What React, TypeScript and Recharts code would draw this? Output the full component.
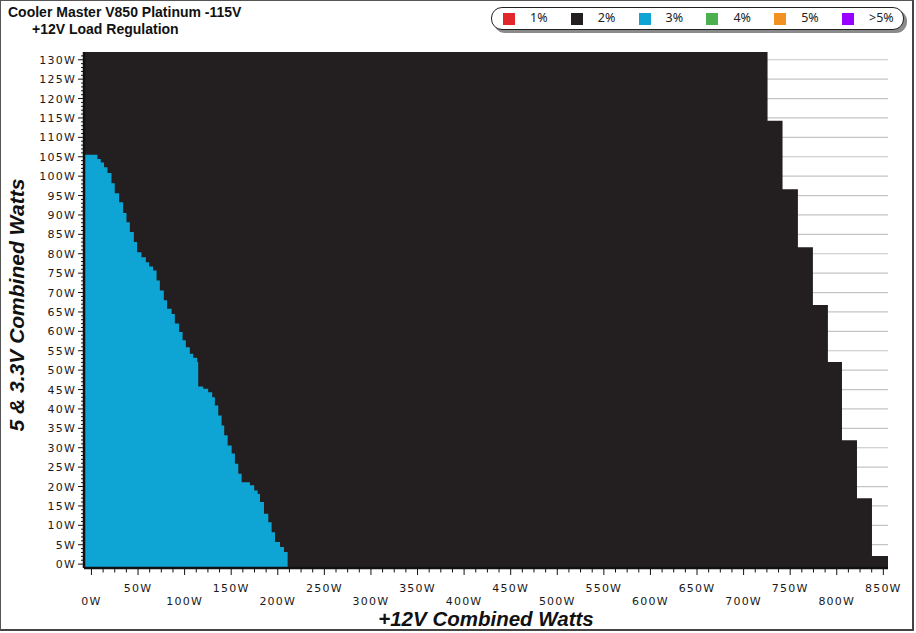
import { Area, CartesianGrid, ComposedChart, XAxis, YAxis } from "recharts"

// +12V combined watts where each step of the 2% (black) region starts, and its top in 5 & 3.3V watts
const blackX = [-8, 725.7, 741.8, 758.3, 774.4, 790.5, 805.6, 821.7, 837.8, 855]
const blackY = [132, 114.3, 96.6, 81.7, 66.8, 52.1, 31.9, 17.0, 2.1, 2.1]

// same for the 3% (blue) region
const blueX = [
  -8, 6.4, 10, 13.5, 17.2, 21.5, 25, 29.7, 34, 37.6, 41.2, 45.5, 49, 53.7, 58.4, 61.9, 66.2,
  69.9, 73.4, 77.7, 81.2, 86, 89.5, 94.1, 97.8, 101.3, 105.6, 109.2, 113.5, 114.6, 119.9,
  125.3, 129.6, 132.5, 136.1, 139.7, 142.5, 146.2, 150.5, 154, 157.6, 161.2, 170.1, 174.7,
  178.4, 180.9, 185.2, 189.8, 193.4, 197, 202.4, 206.7, 210.6,
]
const blueY = [
  105.5, 104.4, 103.5, 102.3, 100.8, 98.2, 95.6, 93.3, 90.5, 88.1, 85.6, 83.0, 80.4, 79.1,
  77.8, 76.7, 75.7, 73.1, 70.5, 68.0, 65.8, 64.5, 62.0, 59.8, 57.7, 55.9, 54.2, 53.2, 52.1,
  45.8, 45.2, 44.3, 43.0, 40.9, 38.3, 35.7, 33.2, 30.6, 28.5, 25.9, 23.3, 21.1, 20.3, 19.0,
  18.1, 16.0, 13.0, 10.8, 8.2, 5.7, 4.4, 3.1, 3.1,
]

const yMajorTicks = [0, 5, 10, 15, 20, 25, 30, 35, 40, 45, 50, 55, 60, 65, 70, 75, 80, 85, 90, 95, 100, 105, 110, 115, 120, 125, 130]
const yTicks = Array.from({ length: 132 }, (_, i) => i)
const xTicks = Array.from({ length: 69 }, (_, i) => i * 12.5)

const legendItems = [
  { label: "1%", color: "#e1262c" },
  { label: "2%", color: "#231f20" },
  { label: "3%", color: "#0ea4d3" },
  { label: "4%", color: "#4cb04f" },
  { label: "5%", color: "#f29021" },
  { label: ">5%", color: "#9a00ff" },
]

const stepValue = (xs: number[], ys: number[], x: number) => {
  let value = ys[0]
  xs.forEach((sx, i) => {
    if (sx <= x) value = ys[i]
  })
  return value
}

const allX = Array.from(new Set([...blackX, ...blueX])).sort((a, b) => a - b)
const rows = allX.map((x) => ({
  x,
  black: stepValue(blackX, blackY, x),
  blue: x <= blueX[blueX.length - 1] ? stepValue(blueX, blueY, x) : null,
}))

const tickFont = "'DejaVu Sans', Verdana, sans-serif"

const YTick = ({ x, y, payload }: any) => {
  const v = payload.value
  const major = v % 5 === 0
  return (
    <g>
      <line x1={x - (major ? 6 : 3)} x2={x} y1={y} y2={y} stroke="#111" strokeWidth={1} />
      {major && (
        <text
          x={x - 8}
          y={y}
          dy={4}
          textAnchor="end"
          fontFamily={tickFont}
          fontSize={11}
          letterSpacing={1.2}
          fill="#1a1a1a"
        >
          {v}W
        </text>
      )}
    </g>
  )
}

const XTick = ({ x, y, payload }: any) => {
  const v = payload.value
  const major = v % 50 === 0
  const upper = major && v % 100 !== 0
  return (
    <g>
      <line x1={x} x2={x} y1={y} y2={y + (major ? 7 : 4.5)} stroke="#111" strokeWidth={1} />
      {major && (
        <text
          x={x}
          y={y + (upper ? 24 : 37)}
          textAnchor="middle"
          fontFamily={tickFont}
          fontSize={11}
          letterSpacing={1.2}
          fill="#1a1a1a"
        >
          {v}W
        </text>
      )}
    </g>
  )
}

export default function App() {
  return (
    <div
      style={{
        position: "absolute",
        left: 0,
        top: 0,
        width: 916,
        height: 633,
        background: "#fff",
        fontFamily: "'Liberation Sans', Arial, sans-serif",
        overflow: "hidden",
      }}
    >
      <div
        style={{
          position: "absolute",
          left: 0,
          top: 0,
          width: 914,
          height: 631,
          boxSizing: "border-box",
          borderTop: "1px solid #555",
          borderLeft: "1px solid #555",
          borderRight: "2px solid #444",
          borderBottom: "2px solid #444",
        }}
      />
      <div style={{ position: "absolute", left: 0, top: 0 }}>
        <ComposedChart
          width={916}
          height={633}
          data={rows}
          margin={{ top: 52, right: 28, bottom: 15, left: 24 }}
        >
          <CartesianGrid
            horizontal
            vertical={false}
            horizontalValues={yMajorTicks}
            stroke="#c4c4c4"
            strokeWidth={1.2}
          />
          <XAxis
            type="number"
            dataKey="x"
            domain={[-8, 855]}
            allowDataOverflow
            ticks={xTicks}
            interval={0}
            tickSize={0}
            tickMargin={0}
            tickLine={false}
            tick={(p: any) => <XTick {...p} />}
            axisLine={{ stroke: "#111", strokeWidth: 2.5 }}
            height={50}
          />
          <YAxis
            type="number"
            domain={[-1, 132]}
            allowDataOverflow
            ticks={yTicks}
            interval={0}
            tickSize={0}
            tickMargin={0}
            tickLine={false}
            tick={(p: any) => <YTick {...p} />}
            axisLine={{ stroke: "#111", strokeWidth: 2.5 }}
            width={60}
          />
          <Area
            type="stepAfter"
            dataKey="black"
            fill="#231f20"
            fillOpacity={1}
            stroke="none"
            baseValue={-1}
            dot={false}
            activeDot={false}
            isAnimationActive={false}
          />
          <Area
            type="stepAfter"
            dataKey="blue"
            fill="#0ea4d3"
            fillOpacity={1}
            stroke="none"
            baseValue={-1}
            dot={false}
            activeDot={false}
            isAnimationActive={false}
          />
        </ComposedChart>
      </div>

      <div
        style={{
          position: "absolute",
          left: 8,
          top: 4,
          fontSize: 14,
          fontWeight: "bold",
          lineHeight: "16px",
          color: "#111",
          whiteSpace: "nowrap",
        }}
      >
        Cooler Master V850 Platinum -115V
      </div>
      <div
        style={{
          position: "absolute",
          left: 32,
          top: 21,
          fontSize: 14,
          fontWeight: "bold",
          lineHeight: "16px",
          color: "#111",
          whiteSpace: "nowrap",
        }}
      >
        +12V Load Regulation
      </div>

      <div
        style={{
          position: "absolute",
          left: 491,
          top: 7,
          width: 413,
          height: 23,
          boxSizing: "border-box",
          border: "1.5px solid #222",
          borderRadius: 11,
          boxShadow: "3px 3px 0 #8a8a8a",
          background: "#fff",
        }}
      >
        {legendItems.map((item, i) => (
          <div key={item.label}>
            <div
              style={{
                position: "absolute",
                left: 11 + i * 67.8,
                top: 4.5,
                width: 12,
                height: 12,
                background: item.color,
              }}
            />
            <div
              style={{
                position: "absolute",
                left: 38 + i * 67.8,
                top: 2,
                fontFamily: "'Noto Sans', sans-serif",
                fontSize: 12.5,
                lineHeight: "16px",
                color: "#222",
                whiteSpace: "nowrap",
              }}
            >
              {item.label}
            </div>
          </div>
        ))}
      </div>

      <div
        style={{
          position: "absolute",
          left: 17,
          top: 305,
          transform: "translate(-50%, -50%) rotate(-90deg)",
          fontSize: 21,
          fontWeight: "bold",
          fontStyle: "italic",
          color: "#111",
          whiteSpace: "nowrap",
        }}
      >
        5 &amp; 3.3V Combined Watts
      </div>
      <div
        style={{
          position: "absolute",
          left: 486,
          top: 619,
          transform: "translate(-50%, -50%)",
          fontSize: 20.5,
          fontWeight: "bold",
          fontStyle: "italic",
          color: "#111",
          whiteSpace: "nowrap",
        }}
      >
        +12V Combined Watts
      </div>
    </div>
  )
}
